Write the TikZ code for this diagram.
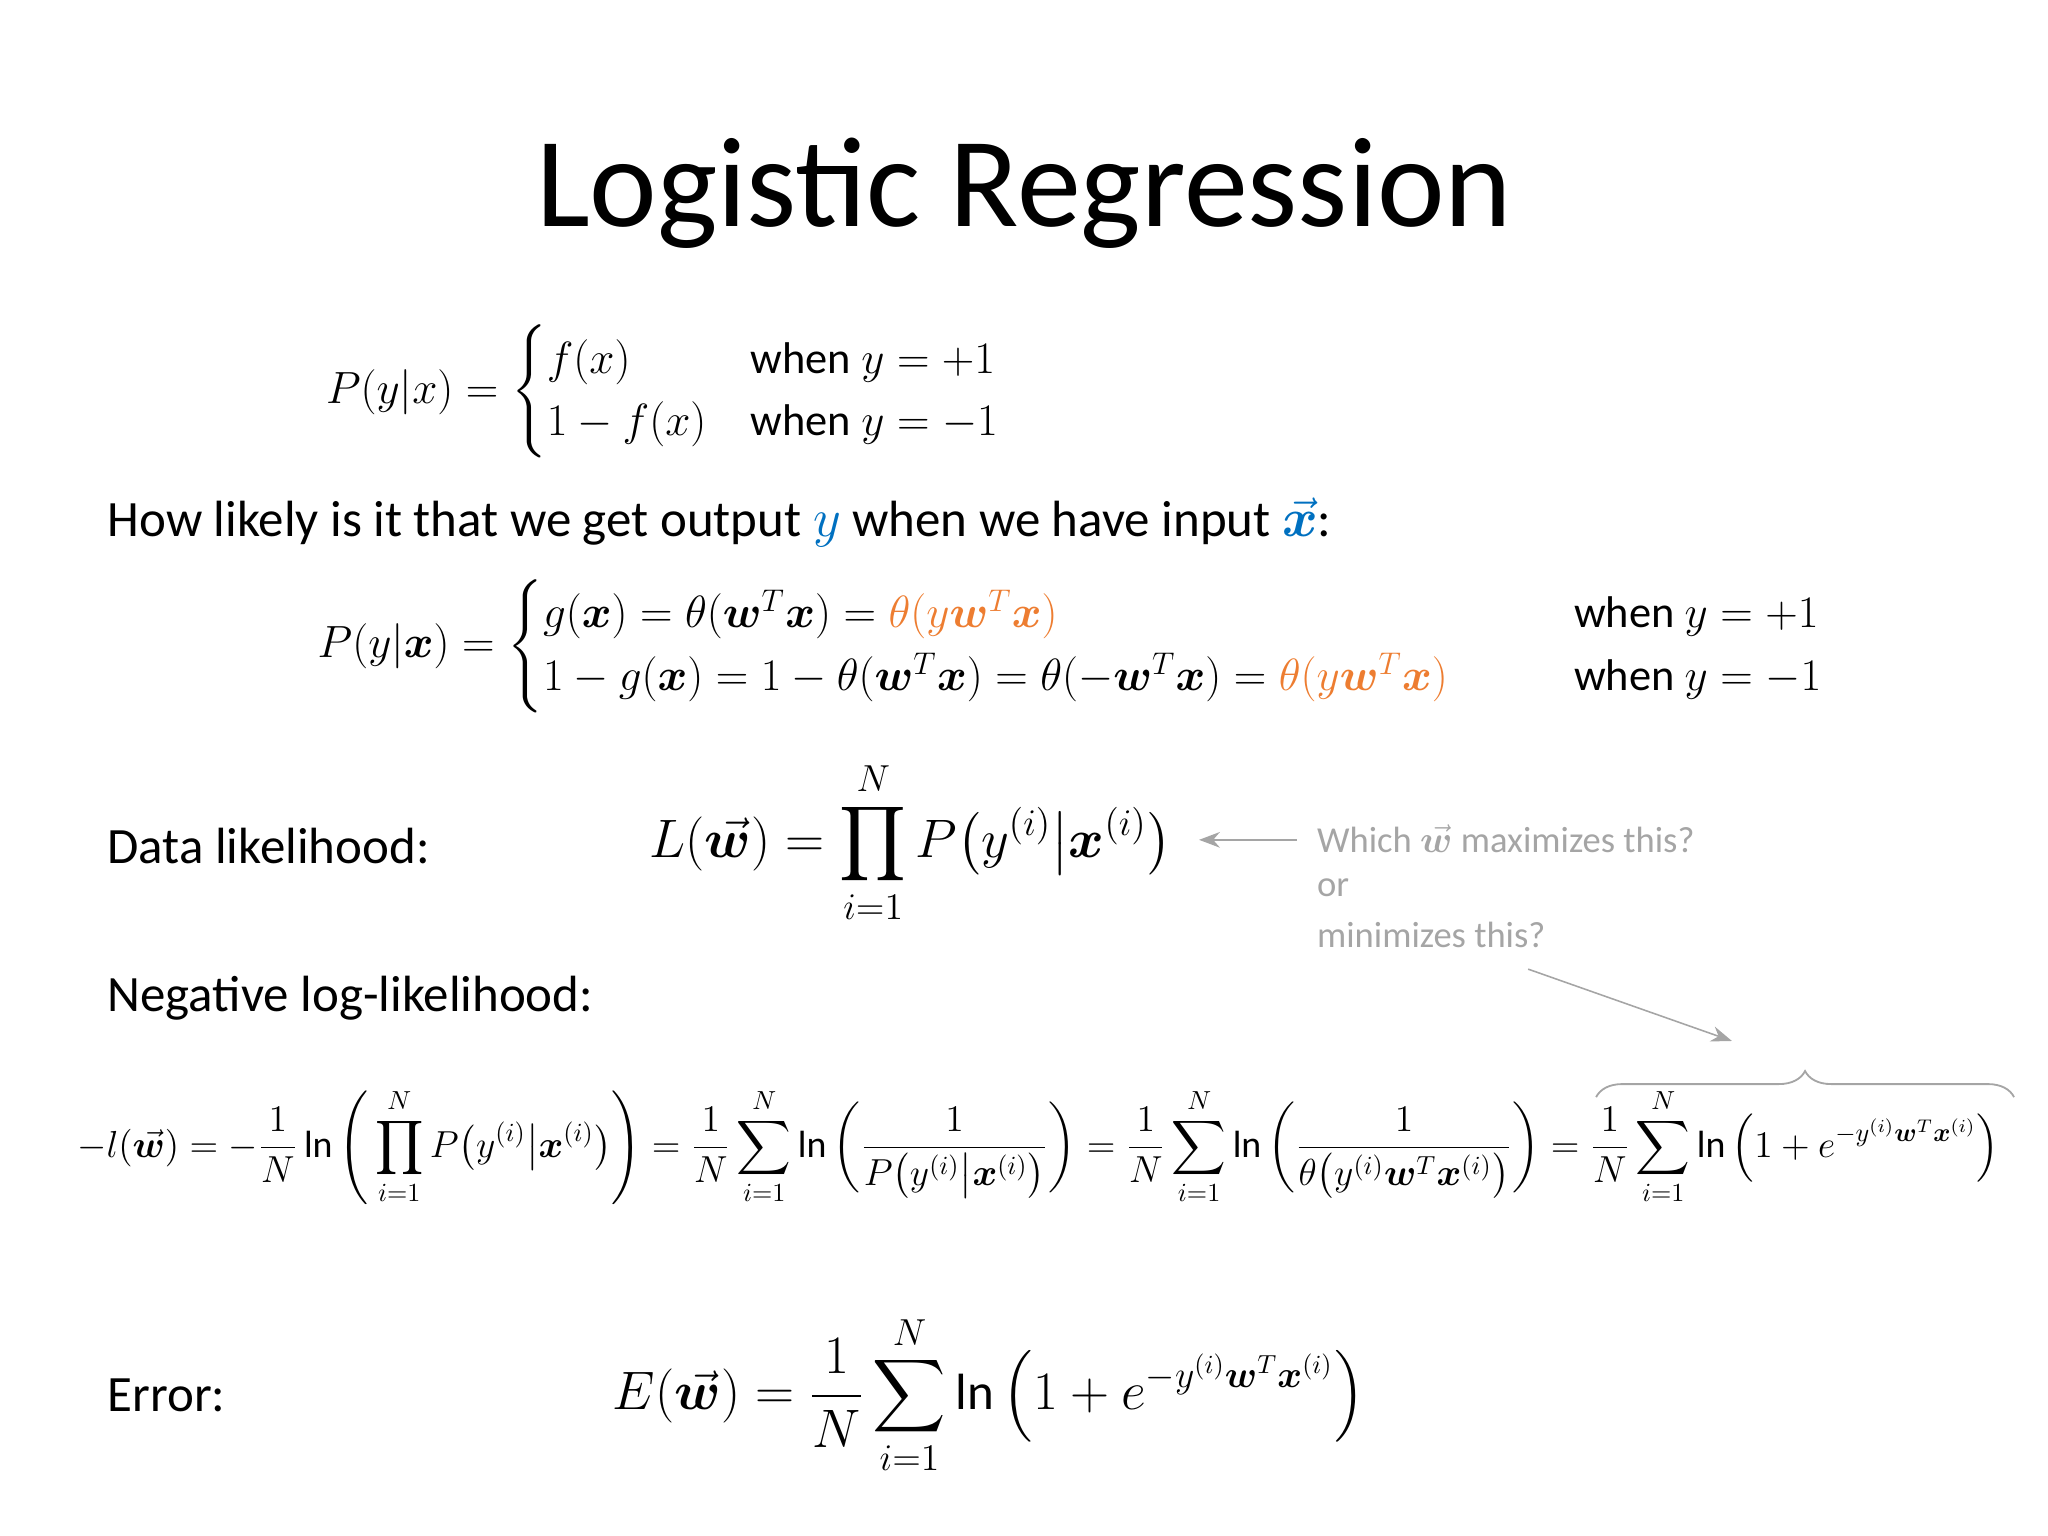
\documentclass[tikz,border=0pt]{standalone}
\usepackage{amsmath,amssymb,bm}
\usepackage{fontspec}
\setmainfont{Carlito}
\usetikzlibrary{arrows.meta,decorations.pathreplacing}
\definecolor{og}{RGB}{237,125,49}
\definecolor{bl}{RGB}{0,112,192}
\definecolor{gr}{RGB}{165,165,165}
\newcommand{\wv}{\vec{\bm w}}
\tikzset{lbl/.style={anchor=west,inner sep=0pt,font=\fontsize{19.5}{23}\selectfont},
 eq/.style={inner sep=0pt,font=\fontsize{17}{20}\selectfont},
 gtxt/.style={anchor=west,inner sep=0pt,text=gr,font=\fontsize{14}{18}\selectfont,align=left},
 garr/.style={draw=gr,-{Stealth[length=8pt,width=6pt]},line width=0.6pt}}
\begin{document}
\begin{tikzpicture}[x=0.5pt,y=-0.5pt]
\useasboundingbox (0,0) rectangle (1568,1176);
\node[inner sep=0pt,font=\fontsize{49}{56}\selectfont] (title) at (784,148) {Logistic Regression};
\node[eq] (e1) at (508,300) {$P(y|x)=\begin{cases} f(x) & \text{when } y=+1\\ 1-f(x) & \text{when } y=-1\end{cases}$};
\node[lbl] (how) at (82,400) {How likely is it that we get output \textcolor{bl}{$y$} when we have input \textcolor{bl}{$\vec{\bm x}$}:};
\node[eq] (e2) at (820,495) {$P(y|\bm x)=\begin{cases} g(\bm x)=\theta(\bm w^T\bm x)=\textcolor{og}{\theta(y\bm w^T\bm x)} & \hspace{1.1cm}\text{when } y=+1\\ 1-g(\bm x)=1-\theta(\bm w^T\bm x)=\theta(-\bm w^T\bm x)=\textcolor{og}{\theta(y\bm w^T\bm x)} & \hspace{1.1cm}\text{when } y=-1\end{cases}$};
\node[lbl] (dl) at (82,648) {Data likelihood:};
\node[eq,font=\fontsize{20}{24}\selectfont] (e3) at (697,645) {$\displaystyle L(\wv)=\prod_{i=1}^{N}P\big(y^{(i)}\big|\bm x^{(i)}\big)$};
\node[gtxt] (which) at (1008,642) {Which $\wv$ maximizes this?};
\node[gtxt] (or) at (1008,680) {or};
\node[gtxt] (mini) at (1008,716) {minimizes this?};
\coordinate (a1) at (993,643); \coordinate (a2) at (918,643);
\draw[garr] (a1) -- (a2);
\node[lbl] (nll) at (82,764) {Negative log-likelihood:};
\node[eq,font=\fontsize{14.5}{17}\selectfont] (e4) at (795,878) {$\displaystyle -l(\wv)=-\frac1N\ln\Bigg(\prod_{i=1}^{N}P\big(y^{(i)}\big|\bm x^{(i)}\big)\Bigg)=\frac1N\sum_{i=1}^{N}\ln\bigg(\frac{1}{P\big(y^{(i)}\big|\bm x^{(i)}\big)}\bigg)=\frac1N\sum_{i=1}^{N}\ln\bigg(\frac{1}{\theta\big(y^{(i)}\bm w^T\bm x^{(i)}\big)}\bigg)=\frac1N\sum_{i=1}^{N}\ln\Big(1+e^{-y^{(i)}\bm w^T\bm x^{(i)}}\Big)$};
\coordinate (b1) at (1222,840); \coordinate (b2) at (1542,840);
\draw[gr,line width=0.7pt,decorate,decoration={brace,amplitude=10pt}] (b1) -- (b2);
\coordinate (bt) at (1326,797); \coordinate (m1) at (1170,742);
\draw[garr] (m1) -- (bt);
\node[lbl] (err) at (82,1068) {Error:};
\node[eq,font=\fontsize{19.5}{23}\selectfont] (e5) at (757,1068) {$\displaystyle E(\wv)=\frac1N\sum_{i=1}^{N}\ln\Big(1+e^{-y^{(i)}\bm w^T\bm x^{(i)}}\Big)$};
\end{tikzpicture}
\end{document}
